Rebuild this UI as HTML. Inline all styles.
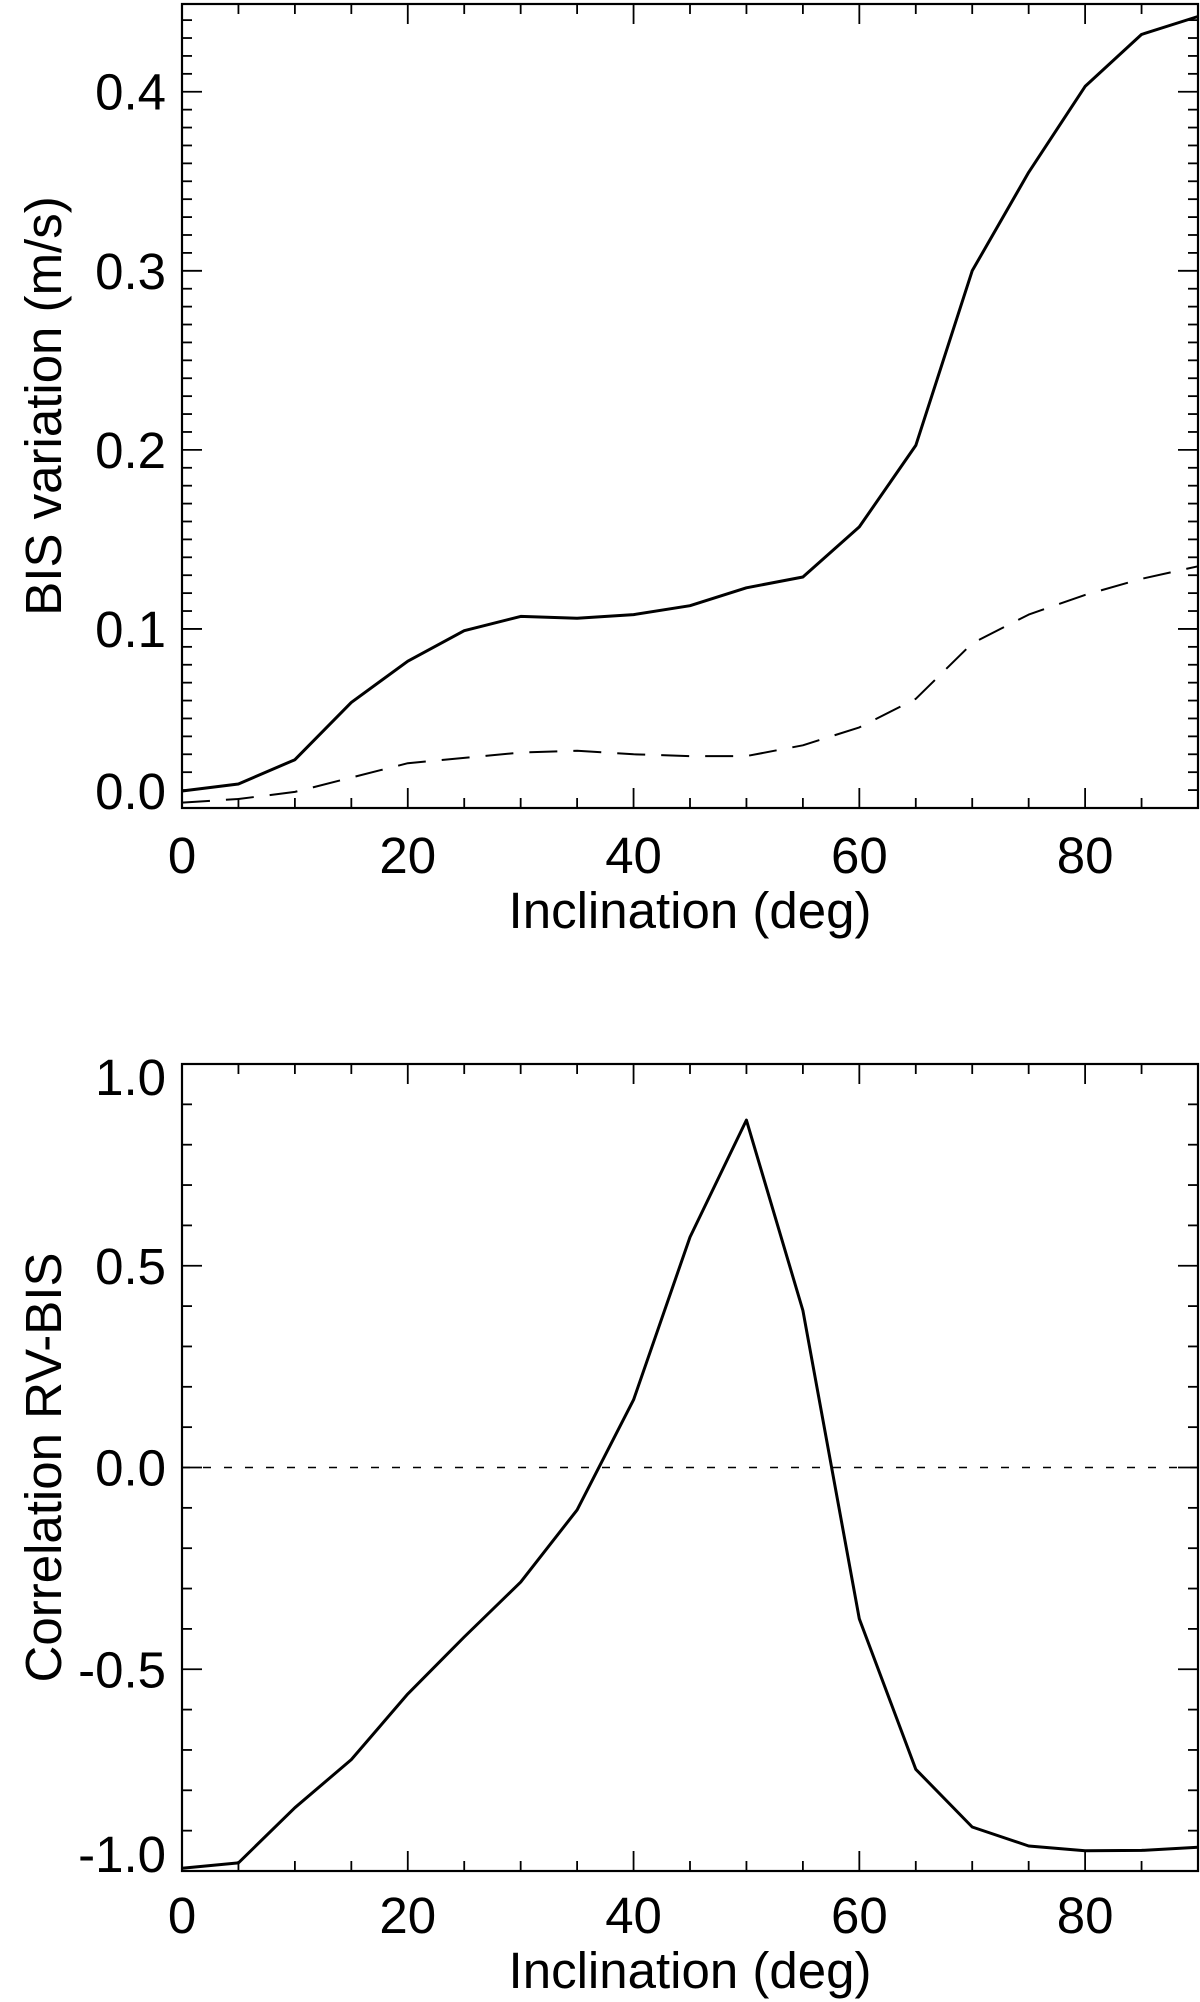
<!DOCTYPE html>
<html><head><meta charset="utf-8">
<style>
html,body{margin:0;padding:0;background:#fff;}
svg{display:block;font-family:"Liberation Sans",Arial,sans-serif;}
</style></head>
<body>
<svg id="fig" width="1200" height="2002" viewBox="0 0 1200 2002" xmlns="http://www.w3.org/2000/svg"></svg>
<script>
const inclinations = [0,5,10,15,20,25,30,35,40,45,50,55,60,65,70,75,80,85,90];
const bisSolid = [0.0095,0.0134,0.027,0.059,0.082,0.099,0.107,0.106,0.108,0.113,0.123,0.129,0.157,0.2025,0.300,0.355,0.403,0.432,0.442];
const bisDashed = [0.003,0.005,0.009,0.017,0.025,0.028,0.031,0.032,0.030,0.029,0.029,0.035,0.045,0.061,0.092,0.108,0.119,0.128,0.135];
const corr = [-0.993,-0.980,-0.843,-0.724,-0.561,-0.420,-0.284,-0.105,0.168,0.571,0.861,0.389,-0.375,-0.748,-0.891,-0.938,-0.950,-0.949,-0.941];
const xTickLabels = ["0","20","40","60","80"];
const topYTickLabels = ["0.0","0.1","0.2","0.3","0.4"];
const botYTickLabels = ["-1.0","-0.5","0.0","0.5","1.0"];

const NS="http://www.w3.org/2000/svg";
const svg=document.getElementById('fig');
function mk(tag,attrs,parent){const e=document.createElementNS(NS,tag);for(const k in attrs)e.setAttribute(k,attrs[k]);(parent||svg).appendChild(e);return e;}

function panel(cfg){
  const g=mk('g',{});
  
  
  const L=182,R=1198,T=cfg.top,B=cfg.bottom;
  const xs=v=>L+(v-0)/(90-0)*(R-L);
  const ys=v=>B-(v-cfg.ymin)/(cfg.ymax-cfg.ymin)*(B-T);
  // axes frame
  const fr=mk('rect',{x:L,y:T,width:R-L,height:B-T,fill:'none',stroke:'#000','stroke-width':2.2},g);
  
  
  // x ticks
  for(let v=0;v<=90;v+=5){
    const maj=v%20===0, len=maj?20:10, x=xs(v);
    mk('line',{x1:x,y1:B,x2:x,y2:B-len,stroke:'#000','stroke-width':1.8},g);
    mk('line',{x1:x,y1:T,x2:x,y2:T+len,stroke:'#000','stroke-width':1.8},g);
  }
  xTickLabels.forEach((s)=>{
    const t=mk('text',{x:xs(+s),y:cfg.xLabelY,'font-size':51,'text-anchor':'middle'},g);
    t.textContent=s;
    
    
  });
  // y ticks
  const nMinor=Math.round((cfg.ymaxTick-cfg.ymin)/cfg.minor);
  for(let i=0;i<=nMinor+3;i++){
    const v=cfg.ymin+i*cfg.minor; if(v>cfg.ymax+1e-9)break;
    const maj=Math.abs(Math.round(v/cfg.major)*cfg.major-v)<1e-9, len=maj?20:10, y=ys(v);
    mk('line',{x1:L,y1:y,x2:L+len,y2:y,stroke:'#000','stroke-width':1.8},g);
    mk('line',{x1:R,y1:y,x2:R-len,y2:y,stroke:'#000','stroke-width':1.8},g);
  }
  cfg.yLabels.forEach((s)=>{
    let yc=ys(parseFloat(s));
    yc=Math.max(T+13,Math.min(B-17,yc));
    const t=mk('text',{x:166,y:yc+18,'font-size':51,'text-anchor':'end'},g);
    t.textContent=s;
    
    
  });
  const xt=mk('text',{x:690,y:cfg.xTitleY,'font-size':51,'text-anchor':'middle'},g);
  xt.textContent='Inclination (deg)';
  
  
  const yc=(T+B)/2;
  const yt=mk('text',{x:61,y:yc,'font-size':51,'text-anchor':'middle',transform:`rotate(-90 61 ${yc})`},g);
  yt.textContent=cfg.ytitle;
  
  
  return {g,xs,ys,L,R};
}

function series(p,vals,name,dash,w){
  const d=vals.map((v,i)=>(i?'L':'M')+p.xs(inclinations[i]).toFixed(1)+','+p.ys(v).toFixed(1)).join(' ');
  const a={d:d,fill:'none',stroke:'#000','stroke-width':w,'stroke-linejoin':'round'};
  if(dash)a['stroke-dasharray']=dash;
  const e=mk('path',a,p.g);
  
  
}

const p1=panel({name:'bis-panel',top:4,bottom:808,ymin:0,ymax:0.449,ymaxTick:0.449,minor:0.01,major:0.1,yLabels:topYTickLabels,xLabelY:873,xTitleY:928,ytitle:'BIS variation (m/s)'});
series(p1,bisSolid,'bis-solid-line',null,3);
series(p1,bisDashed,'bis-dashed-line','28,16',2);

const p2=panel({name:'correlation-panel',top:1064,bottom:1871,ymin:-1,ymax:1,ymaxTick:1,minor:0.1,major:0.5,yLabels:botYTickLabels,xLabelY:1933,xTitleY:1988,ytitle:'Correlation RV-BIS'});
const z=mk('line',{x1:p2.L,y1:p2.ys(0),x2:p2.R,y2:p2.ys(0),stroke:'#000','stroke-width':1.6,'stroke-dasharray':'8,13'},p2.g);


series(p2,corr,'correlation-line',null,3);
</script>
</body></html>
